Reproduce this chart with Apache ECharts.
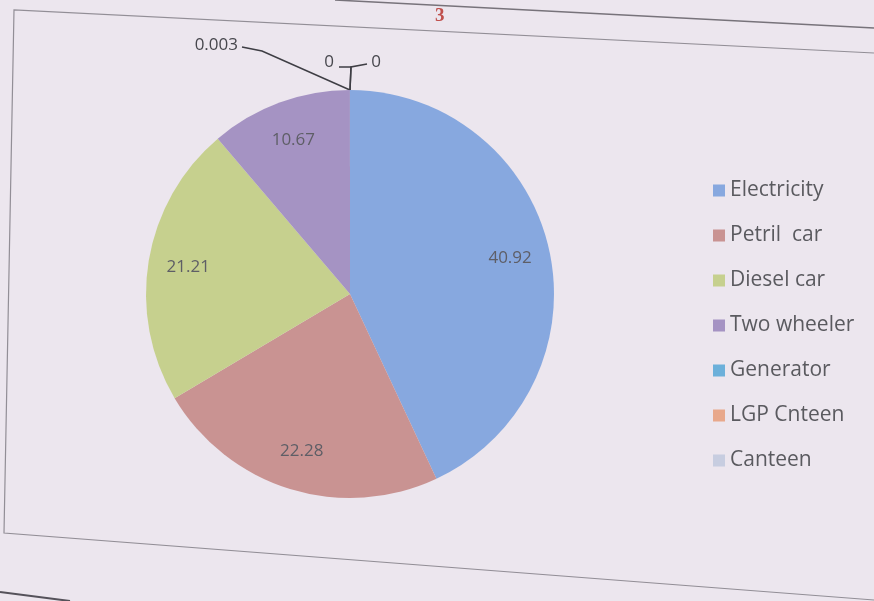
<!DOCTYPE html>
<html lang="en">
<head>
<meta charset="UTF-8">
<title>Pie</title>
<style>
  html, body { margin: 0; padding: 0; background: #ece6ee; }
  #chart { width: 874px; height: 601px; }
</style>
</head>
<body>
<div id="chart"></div>
<script src="https://cdn.jsdelivr.net/npm/echarts@6/dist/echarts.min.js"></script>
<script>
  var categories = ['Electricity', 'Petril  car', 'Diesel car', 'Two wheeler', 'Generator', 'LGP Cnteen', 'Canteen'];
  var values = [40.92, 22.28, 21.21, 10.67, 0.003, 0, 0];
  var colors = ['#87a8df', '#c99392', '#c6d08e', '#a593c3', '#6cb0da', '#e8a88b', '#c7cde0'];

  var chart = echarts.init(document.getElementById('chart'));

  // small slices get an outside label, big ones a label on the ring
  var mainData = categories.map(function (name, i) {
    return { name: name, value: values[i], label: { show: values[i] < 1 }, labelLine: { show: values[i] < 1 } };
  });
  var ringData = categories.map(function (name, i) {
    return { name: name, value: values[i], label: { show: values[i] >= 1 } };
  });

  // where the callouts of the tiny slices go (label centre, elbow)
  var callouts = {
    4: { x: 238, y: 45, align: 'right', elbow: [[262, 51], [242, 47]] },
    5: { x: 329, y: 62, align: 'center', elbow: [[351, 67], [339, 67]] },
    6: { x: 376, y: 62, align: 'center', elbow: [[351, 67], [367, 64]] }
  };

  var option = {
    backgroundColor: '#ece6ee',
    color: colors,
    textStyle: { fontFamily: 'Open Sans' },
    legend: {
      orient: 'vertical',
      left: 708,
      top: 175,
      itemWidth: 12,
      itemHeight: 12,
      itemGap: 24,
      icon: 'rect',
      textStyle: { fontSize: 21, color: '#5a5a5f', fontFamily: 'Open Sans' },
      data: categories
    },
    graphic: [
      { type: 'polyline', shape: { points: [[874, 53], [14, 10], [4, 533], [874, 600]] }, style: { fill: null, stroke: '#928e96', lineWidth: 1.2 } },
      { type: 'line', shape: { x1: 335, y1: 0, x2: 874, y2: 28 }, style: { stroke: '#77737a', lineWidth: 1.5 } },
      { type: 'line', shape: { x1: 0, y1: 592, x2: 70, y2: 601 }, style: { stroke: '#55525a', lineWidth: 2 } },
      { type: 'text', left: 435, top: 7, style: { text: '3', fill: '#c0504d', fontSize: 19, fontWeight: 'bold', fontFamily: 'Liberation Serif' } }
    ],
    series: [
      {
        type: 'pie',
        center: [350, 294],
        radius: 204,
        startAngle: 90,
        clockwise: true,
        silent: true,
        label: {
          position: 'outside',
          formatter: '{c}',
          fontSize: 17,
          color: '#47474d',
          verticalAlign: 'middle'
        },
        labelLine: { lineStyle: { color: '#3e3e44', width: 1.5 } },
        labelLayout: function (params) {
          var c = callouts[params.dataIndex];
          if (!c) return {};
          var start = params.labelLinePoints ? params.labelLinePoints[0] : [350, 90];
          return {
            x: c.x,
            y: c.y,
            align: c.align,
            verticalAlign: 'middle',
            labelLinePoints: [start, c.elbow[0], c.elbow[1]]
          };
        },
        data: mainData
      },
      {
        type: 'pie',
        center: [350, 294],
        radius: [118, 204],
        startAngle: 90,
        clockwise: true,
        silent: true,
        itemStyle: { color: 'rgba(0,0,0,0)' },
        label: {
          position: 'inside',
          formatter: '{c}',
          fontSize: 17,
          color: '#5e5e66'
        },
        labelLine: { show: false },
        data: ringData
      }
    ]
  };
  chart.setOption(option);
</script>
</body>
</html>
